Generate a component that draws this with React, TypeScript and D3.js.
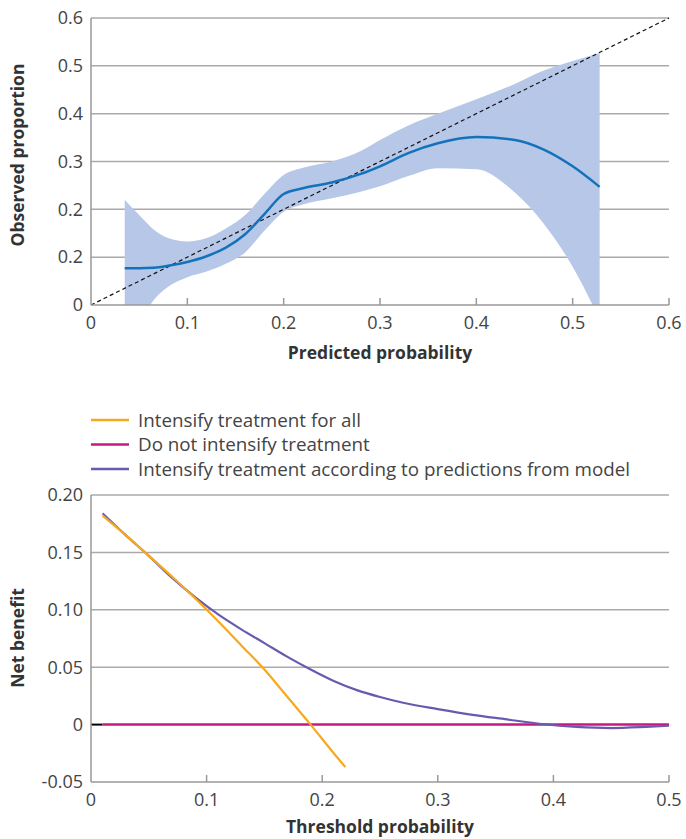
import * as d3 from 'd3';

// calibration plot
const calX = [0.035, 0.05, 0.065, 0.08, 0.1, 0.12, 0.14, 0.16, 0.18, 0.2, 0.22, 0.25, 0.28, 0.3, 0.33, 0.36, 0.4, 0.44, 0.47, 0.5, 0.528];
const calMid = [0.077, 0.077, 0.078, 0.082, 0.09, 0.102, 0.12, 0.148, 0.19, 0.232, 0.244, 0.256, 0.274, 0.29, 0.318, 0.338, 0.351, 0.345, 0.325, 0.29, 0.247];
const calUpper = [0.22, 0.188, 0.158, 0.14, 0.133, 0.14, 0.16, 0.188, 0.232, 0.272, 0.287, 0.3, 0.322, 0.345, 0.376, 0.4, 0.43, 0.462, 0.49, 0.51, 0.527];
const calLower = [-0.1, -0.04, 0.01, 0.038, 0.058, 0.07, 0.086, 0.11, 0.155, 0.195, 0.21, 0.223, 0.237, 0.248, 0.27, 0.286, 0.284, 0.235, 0.17, 0.08, -0.03];
const calYTicks = [0, 0.1, 0.2, 0.3, 0.4, 0.5, 0.6];
const calYLabels = ['0', '0.2', '0.2', '0.3', '0.4', '0.5', '0.6'];
const calXTicks = [0, 0.1, 0.2, 0.3, 0.4, 0.5, 0.6];

// decision curve
const allT = [0.01, 0.03, 0.05, 0.07, 0.09, 0.11, 0.13, 0.15, 0.17, 0.19, 0.21, 0.22];
const allNB = [0.182, 0.165, 0.147, 0.129, 0.11, 0.09, 0.069, 0.048, 0.024, 0.0, -0.025, -0.037];
const modelT = [0.01, 0.03, 0.05, 0.07, 0.09, 0.11, 0.13, 0.15, 0.17, 0.19, 0.21, 0.23, 0.25, 0.27, 0.3, 0.33, 0.36, 0.39, 0.42, 0.45, 0.48, 0.5];
const modelNB = [0.184, 0.165, 0.147, 0.128, 0.111, 0.096, 0.083, 0.071, 0.059, 0.048, 0.038, 0.03, 0.024, 0.019, 0.0135, 0.0085, 0.0045, 0.0005, -0.002, -0.003, -0.002, -0.001];
const noneT = [0.01, 0.5];
const noneNB = [0, 0];
const dcYTicks = [-0.05, 0, 0.05, 0.1, 0.15, 0.2];
const dcYLabels = ['-0.05', '0', '0.05', '0.10', '0.15', '0.20'];
const dcXTicks = [0, 0.1, 0.2, 0.3, 0.4, 0.5];
const dcXLabels = ['0', '0.1', '0.2', '0.3', '0.4', '0.5'];

const legend = [
  { label: 'Intensify treatment for all', color: '#f6a91c' },
  { label: 'Do not intensify treatment', color: '#c8177f' },
  { label: 'Intensify treatment according to predictions from model', color: '#6a5aad' },
];

const FONT = '"Open Sans", sans-serif';
const GRID = '#aaaaaa';
const TXT = '#444';
const TICK = 18;
const TITLE = 17.5;

export default function App() {
  const x1 = d3.scaleLinear().domain([0, 0.6]).range([91, 669]);
  const y1 = d3.scaleLinear().domain([0, 0.6]).range([305, 18]);
  const x2 = d3.scaleLinear().domain([0, 0.5]).range([91, 669]);
  const y2 = d3.scaleLinear().domain([-0.05, 0.2]).range([782, 495]);

  const band = d3
    .area<number>()
    .x((_, i) => x1(calX[i]))
    .y0((_, i) => y1(calLower[i]))
    .y1((_, i) => y1(calUpper[i]))
    .curve(d3.curveMonotoneX);
  const mid = d3
    .line<number>()
    .x((_, i) => x1(calX[i]))
    .y((d) => y1(d))
    .curve(d3.curveMonotoneX);

  const line2 = (ts: number[]) =>
    d3
      .line<number>()
      .x((_, i) => x2(ts[i]))
      .y((d) => y2(d))
      .curve(d3.curveMonotoneX);

  return (
    <svg width={686} height={839} style={{ position: 'absolute', left: 0, top: 0, fontFamily: FONT }}>
      <defs>
        <clipPath id="clipTop">
          <rect x={91} y={18} width={578} height={287} />
        </clipPath>
      </defs>

      {/* calibration */}
      {calYTicks.slice(1).map((t) => (
        <line key={t} x1={91} x2={669} y1={y1(t)} y2={y1(t)} stroke={GRID} strokeWidth={1.5} />
      ))}
      <path d={band(calMid) ?? ''} fill="#b7c7e8" clipPath="url(#clipTop)" />
      <line x1={x1(0)} y1={y1(0)} x2={x1(0.6)} y2={y1(0.6)} stroke="#111" strokeWidth={1.2} strokeDasharray="4,3" />
      <path d={mid(calMid) ?? ''} fill="none" stroke="#1472bb" strokeWidth={2.5} />
      <line x1={91} x2={91} y1={18} y2={305} stroke="#999" strokeWidth={1.5} />
      <line x1={91} x2={669} y1={305} y2={305} stroke="#999" strokeWidth={1.5} />
      {calXTicks.slice(1).map((t) => (
        <line key={t} x1={x1(t)} x2={x1(t)} y1={305} y2={298} stroke="#999" strokeWidth={1.5} />
      ))}
      {calYTicks.map((t, i) => (
        <text key={t} x={83} y={y1(t)} dy="0.35em" textAnchor="end" fontSize={TICK} fill={TXT}>
          {calYLabels[i]}
        </text>
      ))}
      {calXTicks.map((t) => (
        <text key={t} x={x1(t)} y={323} dy="0.35em" textAnchor="middle" fontSize={TICK} fill={TXT}>
          {t === 0 ? '0' : t.toFixed(1)}
        </text>
      ))}
      <text x={380} y={353} dy="0.35em" textAnchor="middle" fontSize={TITLE} fontWeight={700} fill="#333">
        Predicted probability
      </text>
      <text transform={`translate(18,155) rotate(-90)`} dy="0.35em" textAnchor="middle" fontSize={TITLE} fontWeight={700} fill="#333">
        Observed proportion
      </text>

      {/* legend */}
      {legend.map((l, i) => (
        <g key={l.label} transform={`translate(91,${420 + i * 24.5})`}>
          <line x1={0} x2={38} y1={0} y2={0} stroke={l.color} strokeWidth={2.5} />
          <text x={47} y={0} dy="0.35em" fontSize={18.8} fill={TXT}>
            {l.label}
          </text>
        </g>
      ))}

      {/* decision curve */}
      {dcYTicks.slice(1).filter((t) => t !== 0).map((t) => (
        <line key={t} x1={91} x2={669} y1={y2(t)} y2={y2(t)} stroke={GRID} strokeWidth={1.5} />
      ))}
      <line x1={x2(0)} x2={x2(0.01)} y1={y2(0)} y2={y2(0)} stroke="#000" strokeWidth={2} />
      <path d={line2(noneT)(noneNB) ?? ''} fill="none" stroke="#c8177f" strokeWidth={2.5} />
      <path d={line2(modelT)(modelNB) ?? ''} fill="none" stroke="#6a5aad" strokeWidth={2.2} />
      <path d={line2(allT)(allNB) ?? ''} fill="none" stroke="#f6a91c" strokeWidth={2.2} />
      <line x1={91} x2={91} y1={495} y2={782} stroke="#999" strokeWidth={1.5} />
      <line x1={91} x2={669} y1={782} y2={782} stroke="#999" strokeWidth={1.5} />
      {dcXTicks.slice(1).map((t) => (
        <line key={t} x1={x2(t)} x2={x2(t)} y1={782} y2={775} stroke="#999" strokeWidth={1.5} />
      ))}
      {dcYTicks.map((t, i) => (
        <text key={t} x={83} y={y2(t)} dy="0.35em" textAnchor="end" fontSize={TICK} fill={TXT}>
          {dcYLabels[i]}
        </text>
      ))}
      {dcXTicks.map((t, i) => (
        <text key={t} x={x2(t)} y={800} dy="0.35em" textAnchor="middle" fontSize={TICK} fill={TXT}>
          {dcXLabels[i]}
        </text>
      ))}
      <text x={380} y={827} dy="0.35em" textAnchor="middle" fontSize={TITLE} fontWeight={700} fill="#333">
        Threshold probability
      </text>
      <text transform={`translate(18,638) rotate(-90)`} dy="0.35em" textAnchor="middle" fontSize={TITLE} fontWeight={700} fill="#333">
        Net benefit
      </text>
    </svg>
  );
}
